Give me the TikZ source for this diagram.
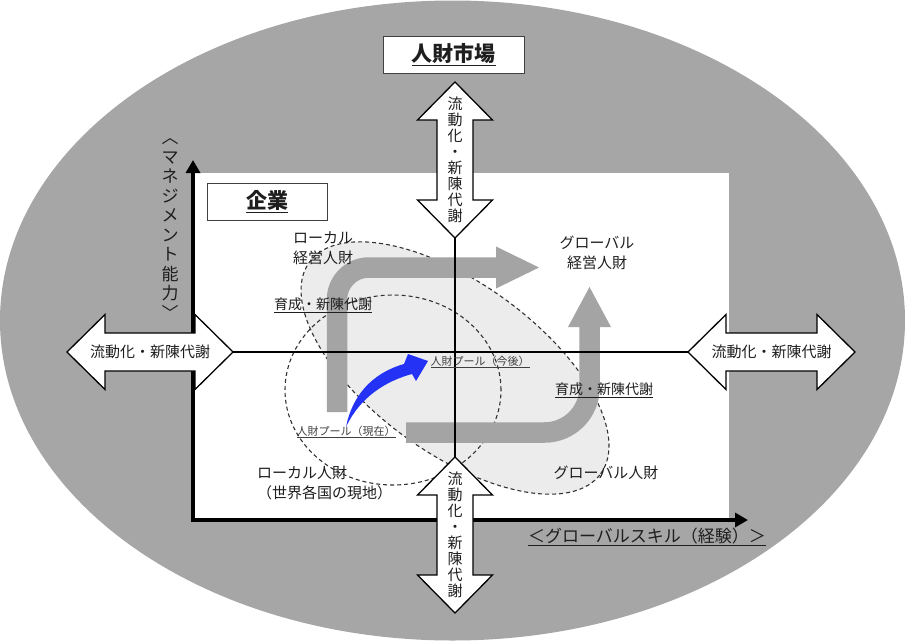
\documentclass[tikz,border=0pt]{standalone}
\usepackage{fontspec}
\setmainfont{Noto Sans CJK JP}
\usepackage{graphicx}
\usetikzlibrary{arrows.meta}
\definecolor{outergray}{RGB}{166,166,166}
\definecolor{poolgray}{RGB}{236,236,236}
\definecolor{arrgray}{RGB}{164,164,164}
\definecolor{bluearr}{RGB}{35,50,245}
\definecolor{txt}{RGB}{30,30,30}
\newcommand{\fsz}[2]{\fontsize{#1}{#2}\selectfont}
\newcommand{\hdarrow}[3]{\draw[darr] ({#1-#3},{#2}) -- ({#1-#3+38},{#2-37.5}) -- ({#1-#3+38},{#2-19}) -- ({#1+#3-38},{#2-19}) -- ({#1+#3-38},{#2-37.5}) -- ({#1+#3},{#2}) -- ({#1+#3-38},{#2+37.5}) -- ({#1+#3-38},{#2+19}) -- ({#1-#3+38},{#2+19}) -- ({#1-#3+38},{#2+37.5}) -- cycle;}
\newcommand{\vdarrow}[3]{\draw[darr] ({#1},{#2-#3}) -- ({#1+37.5},{#2-#3+38}) -- ({#1+18},{#2-#3+38}) -- ({#1+18},{#2+#3-38}) -- ({#1+37.5},{#2+#3-38}) -- ({#1},{#2+#3}) -- ({#1-37.5},{#2+#3-38}) -- ({#1-18},{#2+#3-38}) -- ({#1-18},{#2-#3+38}) -- ({#1-37.5},{#2-#3+38}) -- cycle;}
\begin{document}
\begin{tikzpicture}[x=1pt,y=-1pt,
  darr/.style={draw=black, line width=1.3pt, fill=white, line join=miter},
  lbl/.style={inner sep=0pt, text=txt, font=\fsz{15}{20}, align=center},
  small/.style={inner sep=0pt, text=txt, font=\fsz{14}{18}},
  pool/.style={inner sep=0pt, text=black!75, font=\fsz{11}{13}},
  vtext/.style={inner sep=0pt, text=txt, font=\fsz{15}{16}, align=center},
  titlebox/.style={draw=black!75, line width=0.8pt, fill=white, minimum width=#1, minimum height=37pt, inner sep=0pt, font=\fsz{21}{24}\bfseries, text=txt},
  dashline/.style={dashed, dash pattern=on 4pt off 3pt, line width=1.1pt, draw=black!80},
  garr/.style={draw=arrgray, line width=20.5pt},
  axis/.style={line width=4pt, -{Triangle[length=13pt,width=14pt]}},
  thin/.style={line width=1.8pt}]
\useasboundingbox (0,0) rectangle (905,641);
% outer market ellipse
\fill[outergray] (452.5,320.5) ellipse [x radius=452.5pt, y radius=320pt];
% company area
\fill[white] (193,173) rectangle (729,520);
% talent pool (future) and current pool
\begin{scope}[shift={(455,368)}, rotate=-36]
  \filldraw[fill=poolgray, dashline] (0,0) ellipse [x radius=180pt, y radius=85pt];
\end{scope}
\draw[dashline] (393,390) ellipse [x radius=108pt, y radius=95pt];
% gray development arrows
\coordinate (g1s) at (337,412);
\coordinate (g1c) at (337,267.5);
\coordinate (g1e) at (497,267.5);
\coordinate (g1t) at (539,267.5);
\draw[garr, rounded corners=32pt] (g1s) -- (g1c) -- (g1e);
\fill[arrgray] (496,246.5) -- (g1t) -- (496,288.5) -- cycle;
\coordinate (g2s) at (406,432.5);
\coordinate (g2c) at (589.5,432.5);
\coordinate (g2e) at (589.5,326);
\coordinate (g2t) at (589.5,287);
\draw[garr, rounded corners=45pt] (g2s) -- (g2c) -- (g2e);
\fill[arrgray] (568,327) -- (g2t) -- (611,327) -- cycle;
% axes
\coordinate (origin) at (193,520);
\coordinate (ytop) at (193,160);
\coordinate (xend) at (748,520);
\draw[axis] ([yshift=-2pt]origin) -- (ytop);
\draw[axis] ([xshift=-2pt]origin) -- (xend);
% cross lines
\coordinate (ltip) at (233,352);
\coordinate (rtip) at (688,352);
\coordinate (ttip) at (455,238);
\coordinate (btip) at (455,457);
\draw[thin] (ltip) -- (rtip);
\draw[thin] (ttip) -- (btip);
% double arrows
\hdarrow{150}{352}{83}
\hdarrow{771.5}{352}{83.5}
\vdarrow{455}{160}{78}
\vdarrow{455}{535}{78}
\node[lbl] (leftflow) at (150,352) {流動化・新陳代謝};
\node[lbl] (rightflow) at (771.5,352) {流動化・新陳代謝};
\node[vtext] (topflow) at (455,160) {流\\動\\化\\・\\新\\陳\\代\\謝};
\node[vtext] (botflow) at (455,535) {流\\動\\化\\・\\新\\陳\\代\\謝};
% title boxes
\node[titlebox=141pt] (market) at (453.5,54.5) {\underline{人財市場}};
\node[titlebox=120pt] (company) at (267,201.5) {\underline{企業}};
% axis labels
\node[inner sep=0pt, text=txt, font=\fsz{17}{19.5}, align=center] (ylabel) at (170,229) {︿\\マ\\ネ\\ジ\\メ\\ン\\ト\\能\\力\\﹀};
\node[inner sep=0pt, text=txt, font=\fsz{17}{20}] (xlabel) at (647,537) {\underline{＜グローバルスキル（経験）＞}};
% quadrant labels
\node[lbl] (lmgr) at (323,248) {ローカル\\経営人財};
\node[lbl] (gmgr) at (597,253) {グローバル\\経営人財};
\node[lbl, align=left, anchor=west] (llocal) at (257,482.5) {ローカル人財\\（世界各国の現地）};
\node[lbl] (gglobal) at (606,473) {グローバル人財};
\node[small] (dev1) at (323,305) {\underline{育成・新陳代謝}};
\node[small] (dev2) at (604,390) {\underline{育成・新陳代謝}};
\node[pool] (poolnow) at (346,432) {\underline{人財プール（現在）}};
\node[pool] (poolfut) at (480,362) {\underline{人財プール（今後）}};
% blue arrow from current pool to future pool
\fill[bluearr] (346,427) .. controls (352,396) and (372,373) .. (404,364) -- (408,354) -- (428,361) -- (416,381) -- (412,374) .. controls (386,381) and (360,397) .. (346,427) -- cycle;
\end{tikzpicture}
\end{document}
